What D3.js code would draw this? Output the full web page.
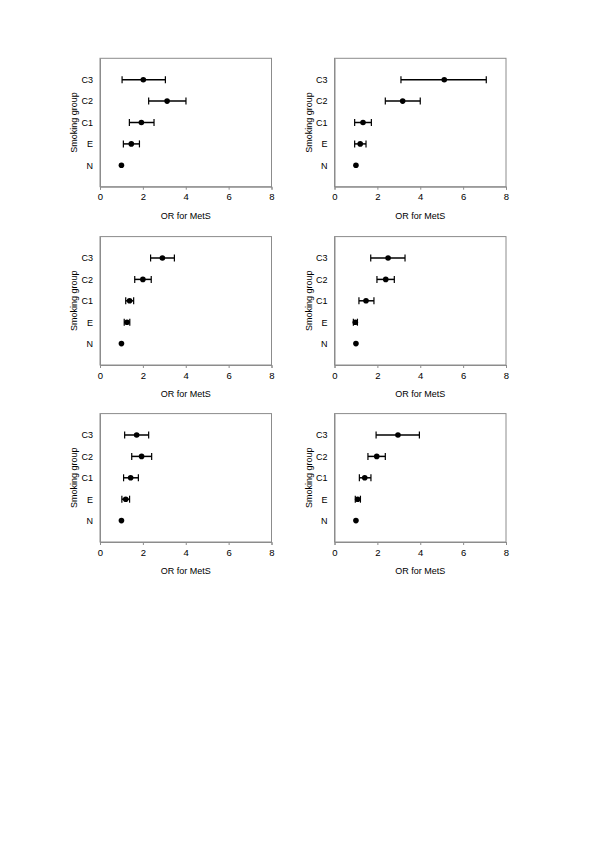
<!DOCTYPE html>
<html>
<head>
<meta charset="utf-8">
<script src="https://cdn.jsdelivr.net/npm/d3@7"></script>
<style>
  body { margin: 0; background: #fff; }
  svg text { font-family: "Liberation Sans", Arial, sans-serif; fill: #000; }
</style>
</head>
<body>
<div id="chart"></div>
<script>
// Smoking groups, bottom to top
const categories = ['N', 'E', 'C1', 'C2', 'C3'];
const xTicks = [0, 2, 4, 6, 8];

// odds ratios and 95% CI, one set per panel (order follows categories)
const orA = [1, 1.46, 1.93, 3.13, 2.02];
const loA = [1, 1.09, 1.37, 2.27, 1.03];
const hiA = [1, 1.84, 2.52, 4.01, 3.05];

const orB = [1, 1.2, 1.33, 3.18, 5.12];
const loB = [1, 0.94, 0.94, 2.37, 3.1];
const hiB = [1, 1.47, 1.72, 4.0, 7.08];

const orC = [1, 1.26, 1.38, 2.0, 2.91];
const loC = [1, 1.13, 1.2, 1.62, 2.36];
const hiC = [1, 1.39, 1.57, 2.39, 3.47];

const orD = [1, 0.97, 1.47, 2.39, 2.5];
const loD = [1, 0.88, 1.14, 1.98, 1.69];
const hiD = [1, 1.07, 1.84, 2.79, 3.29];

const orE = [1, 1.2, 1.43, 1.94, 1.71];
const loE = [1, 1.02, 1.1, 1.48, 1.15];
const hiE = [1, 1.38, 1.79, 2.41, 2.27];

const orF = [1, 1.08, 1.41, 1.97, 2.96];
const loF = [1, 0.97, 1.16, 1.56, 1.94];
const hiF = [1, 1.21, 1.7, 2.37, 3.96];

const panels = [
    { or: orA, lo: loA, hi: hiA, col: 0, row: 0 },
    { or: orB, lo: loB, hi: hiB, col: 1, row: 0 },
    { or: orC, lo: loC, hi: hiC, col: 0, row: 1 },
    { or: orD, lo: loD, hi: hiD, col: 1, row: 1 },
    { or: orE, lo: loE, hi: hiE, col: 0, row: 2 },
    { or: orF, lo: loF, hi: hiF, col: 1, row: 2 }
];

// page layout
const width = 600;
const height = 849;
const colLeft = [100, 334.5];
const rowTop = [58.3, 236.6, 413.6];
const plotW = 171.5;
const plotH = 128.4;

const svg = d3.select('#chart')
    .append('svg')
    .attr('width', width)
    .attr('height', height);

panels.forEach((p) => {
    const x0 = colLeft[p.col];
    const y0 = rowTop[p.row];

    const xScale = d3.scaleLinear().domain([0, 8]).range([x0, x0 + plotW]);
    const yScale = d3.scaleLinear().domain([0, 6]).range([y0 + plotH, y0]);

    const g = svg.append('g');

    // plot frame
    g.append('rect')
        .attr('x', x0)
        .attr('y', y0)
        .attr('width', plotW)
        .attr('height', plotH)
        .attr('fill', 'none')
        .attr('stroke', '#8c8c8c')
        .attr('stroke-width', 1);

    // x axis
    const xAxis = g.append('g')
        .attr('transform', `translate(0, ${y0 + plotH})`)
        .call(d3.axisBottom(xScale).tickValues(xTicks).tickSize(3).tickPadding(4));
    xAxis.select('.domain').attr('stroke', '#8c8c8c');
    xAxis.selectAll('.tick line').attr('stroke', '#8c8c8c');
    xAxis.selectAll('text').attr('font-size', 9.5).attr('font-family', '"Liberation Sans", Arial, sans-serif');

    // y axis with group names
    const yAxis = g.append('g')
        .attr('transform', `translate(${x0}, 0)`)
        .call(d3.axisLeft(yScale)
            .tickValues([1, 2, 3, 4, 5])
            .tickFormat((d) => categories[d - 1])
            .tickSize(0)
            .tickPadding(7));
    yAxis.select('.domain').attr('stroke', '#8c8c8c');
    yAxis.selectAll('text').attr('font-size', 9).attr('font-family', '"Liberation Sans", Arial, sans-serif');

    // axis titles
    g.append('text')
        .attr('x', x0 + plotW / 2)
        .attr('y', y0 + plotH + 32)
        .attr('text-anchor', 'middle')
        .attr('font-size', 9)
        .text('OR for MetS');

    g.append('text')
        .attr('transform', `translate(${x0 - 23}, ${y0 + plotH / 2}) rotate(-90)`)
        .attr('text-anchor', 'middle')
        .attr('font-size', 9)
        .text('Smoking group');

    const rows = categories.map((c, i) => ({ i, or: p.or[i], lo: p.lo[i], hi: p.hi[i] }));
    const withCI = rows.filter((d) => d.hi > d.lo);

    // error bars
    g.selectAll('.ci')
        .data(withCI)
        .join('line')
        .attr('x1', (d) => xScale(d.lo))
        .attr('x2', (d) => xScale(d.hi))
        .attr('y1', (d) => yScale(d.i + 1))
        .attr('y2', (d) => yScale(d.i + 1))
        .attr('stroke', '#000')
        .attr('stroke-width', 1.5);

    ['lo', 'hi'].forEach((k) => {
        g.selectAll('.cap-' + k)
            .data(withCI)
            .join('line')
            .attr('x1', (d) => xScale(d[k]))
            .attr('x2', (d) => xScale(d[k]))
            .attr('y1', (d) => yScale(d.i + 1) - 3.5)
            .attr('y2', (d) => yScale(d.i + 1) + 3.5)
            .attr('stroke', '#000')
            .attr('stroke-width', 1.2);
    });

    // point estimates
    g.selectAll('circle')
        .data(rows)
        .join('circle')
        .attr('cx', (d) => xScale(d.or))
        .attr('cy', (d) => yScale(d.i + 1))
        .attr('r', 2.8)
        .attr('fill', '#000');
});
</script>
</body>
</html>
